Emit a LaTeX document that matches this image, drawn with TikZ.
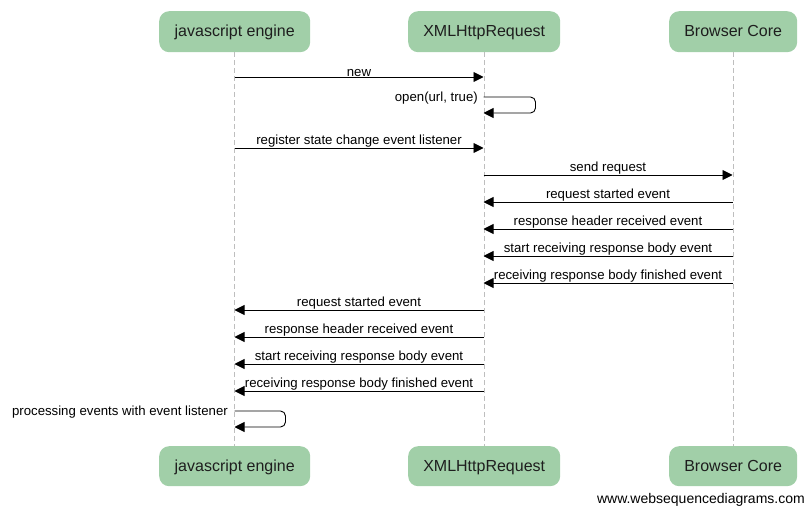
\documentclass[tikz,border=0pt]{standalone}
\usepackage{fontspec}
\setmainfont{Liberation Sans}
\usetikzlibrary{arrows.meta}
\definecolor{boxfill}{RGB}{161,207,168}
\definecolor{lifegray}{RGB}{190,190,190}
\definecolor{boxtext}{RGB}{30,30,30}
\begin{document}
\begin{tikzpicture}[x=1pt,y=-1pt,
  actor/.style={fill=boxfill, rounded corners=10pt, text=boxtext, inner sep=0pt,
    text height=13pt, text depth=2.5pt,
    font=\fontsize{16}{19}\selectfont, anchor=north west},
  lifeline/.style={draw=lifegray, dash pattern=on 5pt off 3pt, line width=0.8pt},
  msgline/.style={line width=0.9pt, -{Triangle[length=10pt,width=10pt]}},
  lbl/.style={font=\fontsize{13.2}{15}\selectfont, above, inner sep=0pt},
  selflbl/.style={font=\fontsize{13.2}{15}\selectfont, anchor=base east, inner sep=0pt}]
\useasboundingbox (0,0) rectangle (809,508);
% top actors
\node[actor, minimum width=151pt, minimum height=41pt] (jsT) at (159,11) {javascript engine};
\node[actor, minimum width=152pt, minimum height=41pt] (xT) at (408,11) {XMLHttpRequest};
\node[actor, minimum width=128pt, minimum height=41pt] (bT) at (669,11) {Browser Core};
% bottom actors
\node[actor, minimum width=151pt, minimum height=40pt] (jsB) at (159,446) {javascript engine};
\node[actor, minimum width=152pt, minimum height=40pt] (xB) at (408,446) {XMLHttpRequest};
\node[actor, minimum width=128pt, minimum height=40pt] (bB) at (669,446) {Browser Core};
% lifelines
\draw[lifeline] (jsT.south) -- (jsB.north);
\draw[lifeline] (xT.south) -- (xB.north);
\draw[lifeline] (bT.south) -- (bB.north);
% coordinates
\coordinate (j1) at (234.5,77);  \coordinate (x1) at (483.5,77);
\coordinate (x2a) at (483.5,97); \coordinate (x2b) at (483.5,113);
\coordinate (j3) at (234.5,148); \coordinate (x3) at (483.5,148);
\coordinate (x4) at (483.5,175); \coordinate (b4) at (732.5,175);
\coordinate (x5) at (483.5,202); \coordinate (b5) at (732.5,202);
\coordinate (x6) at (483.5,229); \coordinate (b6) at (732.5,229);
\coordinate (x7) at (483.5,256); \coordinate (b7) at (732.5,256);
\coordinate (x8) at (483.5,283); \coordinate (b8) at (732.5,283);
\coordinate (j9) at (234.5,310); \coordinate (x9) at (483.5,310);
\coordinate (j10) at (234.5,337); \coordinate (x10) at (483.5,337);
\coordinate (j11) at (234.5,364); \coordinate (x11) at (483.5,364);
\coordinate (j12) at (234.5,391); \coordinate (x12) at (483.5,391);
\coordinate (j13a) at (234.5,411); \coordinate (j13b) at (234.5,427);
% messages
\draw[msgline] (j1) -- node[lbl] {new} (x1);
\draw[msgline, rounded corners=5pt] (x2a) -- ++(52,0) |- (x2b);
\node[selflbl] (l2) at (478,102) {open(url, true)};
\draw[msgline] (j3) -- node[lbl] {register state change event listener} (x3);
\draw[msgline] (x4) -- node[lbl] {send request} (b4);
\draw[msgline] (b5) -- node[lbl] {request started event} (x5);
\draw[msgline] (b6) -- node[lbl] {response header received event} (x6);
\draw[msgline] (b7) -- node[lbl] {start receiving response body event} (x7);
\draw[msgline] (b8) -- node[lbl] {receiving response body finished event} (x8);
\draw[msgline] (x9) -- node[lbl] {request started event} (j9);
\draw[msgline] (x10) -- node[lbl] {response header received event} (j10);
\draw[msgline] (x11) -- node[lbl] {start receiving response body event} (j11);
\draw[msgline] (x12) -- node[lbl] {receiving response body finished event} (j12);
\draw[msgline, rounded corners=5pt] (j13a) -- ++(51,0) |- (j13b);
\node[selflbl] (l13) at (228,415) {processing events with event listener};
% footer
\node[selflbl, font=\fontsize{14}{16}\selectfont] (foot) at (805,503) {www.websequencediagrams.com};
\end{tikzpicture}
\end{document}
